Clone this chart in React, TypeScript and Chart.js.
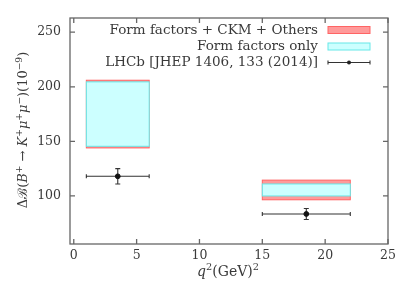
import React, { useEffect, useRef } from "react";
import { Chart, registerables } from "chart.js";

Chart.register(...registerables);

// ---- data ----
const binLow = [1, 15];
const binHigh = [6, 22];
const fullLow = [144, 96.5];
const fullHigh = [206, 114.5];
const ffLow = [145.5, 100];
const ffHigh = [204.5, 111];
const lhcbX = [3.5, 18.5];
const lhcbY = [118, 83.5];
const lhcbErr = [7, 5];
const xTicks = [0, 5, 10, 15, 20, 25];
const yTicks = [100, 150, 200, 250];
const legendLabels = [
  "Form factors + CKM + Others",
  "Form factors only",
  "LHCb [JHEP 1406, 133 (2014)]",
];

const RED_FILL = "#ff9a9a";
const RED_LINE = "#ff6464";
const CYAN_FILL = "#ccffff";
const CYAN_LINE = "#66e8e8";
const TEXT = "#3a3a3a";
const AXIS = "#666666";
const FONT = "'DejaVu Serif', 'Liberation Serif', serif";

type Run = { t: string; i?: boolean; sup?: boolean };

function runsWidth(ctx: CanvasRenderingContext2D, runs: Run[], size: number) {
  let w = 0;
  for (const r of runs) {
    const s = r.sup ? size * 0.7 : size;
    ctx.font = `${r.i ? "italic " : ""}${s}px ${FONT}`;
    w += ctx.measureText(r.t).width;
  }
  return w;
}

function drawRuns(ctx: CanvasRenderingContext2D, runs: Run[], size: number, x: number, y: number) {
  let cx = x;
  ctx.textBaseline = "alphabetic";
  ctx.textAlign = "left";
  for (const r of runs) {
    const s = r.sup ? size * 0.7 : size;
    ctx.font = `${r.i ? "italic " : ""}${s}px ${FONT}`;
    ctx.fillText(r.t, cx, r.sup ? y - size * 0.4 : y);
    cx += ctx.measureText(r.t).width;
  }
}

const yTitle: Run[] = [
  { t: "Δ" }, { t: "ℬ" }, { t: "(" }, { t: "B", i: true }, { t: "+", sup: true },
  { t: " → " }, { t: "K", i: true }, { t: "+", sup: true }, { t: "μ", i: true }, { t: "+", sup: true },
  { t: "μ", i: true }, { t: "−", sup: true }, { t: ")(10" }, { t: "−9", sup: true }, { t: ")" },
];
const xTitle: Run[] = [{ t: "q", i: true }, { t: "2", sup: true }, { t: "(GeV)" }, { t: "2", sup: true }];

const overlay = {
  id: "overlay",
  beforeDatasetsDraw(chart: any) {
    const ctx: CanvasRenderingContext2D = chart.ctx;
    const xs = chart.scales.x;
    const ys = chart.scales.y;
    ctx.save();
    for (let k = 0; k < binLow.length; k++) {
      const x0 = xs.getPixelForValue(binLow[k]);
      const x1 = xs.getPixelForValue(binHigh[k]);
      let yA = ys.getPixelForValue(fullHigh[k]);
      let yB = ys.getPixelForValue(fullLow[k]);
      ctx.fillStyle = RED_FILL;
      ctx.fillRect(x0, yA, x1 - x0, yB - yA);
      ctx.strokeStyle = RED_LINE;
      ctx.lineWidth = 1;
      ctx.strokeRect(x0, yA, x1 - x0, yB - yA);
      yA = ys.getPixelForValue(ffHigh[k]);
      yB = ys.getPixelForValue(ffLow[k]);
      ctx.fillStyle = CYAN_FILL;
      ctx.fillRect(x0, yA, x1 - x0, yB - yA);
      ctx.strokeStyle = CYAN_LINE;
      ctx.strokeRect(x0, yA, x1 - x0, yB - yA);
    }
    // error bars
    ctx.strokeStyle = "#333";
    ctx.lineWidth = 1.1;
    for (let k = 0; k < lhcbX.length; k++) {
      const x0 = xs.getPixelForValue(binLow[k]);
      const x1 = xs.getPixelForValue(binHigh[k]);
      const xc = xs.getPixelForValue(lhcbX[k]);
      const yc = ys.getPixelForValue(lhcbY[k]);
      const yt = ys.getPixelForValue(lhcbY[k] + lhcbErr[k]);
      const yb = ys.getPixelForValue(lhcbY[k] - lhcbErr[k]);
      ctx.beginPath();
      ctx.moveTo(x0, yc); ctx.lineTo(x1, yc);
      ctx.moveTo(x0, yc - 2); ctx.lineTo(x0, yc + 2);
      ctx.moveTo(x1, yc - 2); ctx.lineTo(x1, yc + 2);
      ctx.moveTo(xc, yt); ctx.lineTo(xc, yb);
      ctx.moveTo(xc - 2.5, yt); ctx.lineTo(xc + 2.5, yt);
      ctx.moveTo(xc - 2.5, yb); ctx.lineTo(xc + 2.5, yb);
      ctx.stroke();
    }
    ctx.restore();
  },
  afterDraw(chart: any) {
    const ctx: CanvasRenderingContext2D = chart.ctx;
    const a = chart.chartArea;
    const xs = chart.scales.x;
    const ys = chart.scales.y;
    ctx.save();
    // frame + inward ticks
    ctx.strokeStyle = AXIS;
    ctx.lineWidth = 1.3;
    ctx.strokeRect(a.left, a.top, a.right - a.left, a.bottom - a.top);
    ctx.beginPath();
    for (const v of xTicks) {
      const px = xs.getPixelForValue(v);
      ctx.moveTo(px, a.bottom); ctx.lineTo(px, a.bottom - 5);
      ctx.moveTo(px, a.top); ctx.lineTo(px, a.top + 5);
    }
    for (const v of yTicks) {
      const py = ys.getPixelForValue(v);
      ctx.moveTo(a.left, py); ctx.lineTo(a.left + 5, py);
      ctx.moveTo(a.right, py); ctx.lineTo(a.right - 5, py);
    }
    ctx.stroke();
    // legend
    const rows = [30, 46.5, 62.5];
    const sx0 = 328, sx1 = 370;
    ctx.fillStyle = TEXT;
    ctx.font = `13.5px ${FONT}`;
    ctx.textAlign = "right";
    ctx.textBaseline = "middle";
    legendLabels.forEach((l, i) => ctx.fillText(l, 318, rows[i]));
    ctx.lineWidth = 1;
    ctx.fillStyle = RED_FILL; ctx.fillRect(sx0, rows[0] - 3.5, sx1 - sx0, 7);
    ctx.strokeStyle = RED_LINE; ctx.strokeRect(sx0, rows[0] - 3.5, sx1 - sx0, 7);
    ctx.fillStyle = CYAN_FILL; ctx.fillRect(sx0, rows[1] - 3.5, sx1 - sx0, 7);
    ctx.strokeStyle = CYAN_LINE; ctx.strokeRect(sx0, rows[1] - 3.5, sx1 - sx0, 7);
    ctx.strokeStyle = "#333"; ctx.lineWidth = 1.1;
    ctx.beginPath();
    ctx.moveTo(sx0, rows[2]); ctx.lineTo(sx1, rows[2]);
    ctx.moveTo(sx0, rows[2] - 2); ctx.lineTo(sx0, rows[2] + 2);
    ctx.moveTo(sx1, rows[2] - 2); ctx.lineTo(sx1, rows[2] + 2);
    ctx.stroke();
    ctx.fillStyle = "#222";
    ctx.beginPath(); ctx.arc((sx0 + sx1) / 2, rows[2], 2, 0, Math.PI * 2); ctx.fill();
    // axis titles
    ctx.fillStyle = TEXT;
    const xw = runsWidth(ctx, xTitle, 14);
    drawRuns(ctx, xTitle, 14, 228 - xw / 2, 276);
    ctx.save();
    ctx.translate(27, 130);
    ctx.rotate(-Math.PI / 2);
    const yw = runsWidth(ctx, yTitle, 13);
    drawRuns(ctx, yTitle, 13, -yw / 2, 0);
    ctx.restore();
    ctx.restore();
  },
};

export default function App() {
  const ref = useRef<HTMLCanvasElement>(null);
  useEffect(() => {
    const chart = new Chart(ref.current!, {
      type: "scatter",
      data: {
        datasets: [
          {
            label: legendLabels[2],
            data: lhcbX.map((x, i) => ({ x, y: lhcbY[i] })),
            backgroundColor: "#111",
            borderColor: "#111",
            pointRadius: 2.4,
          },
        ],
      },
      options: {
        animation: false,
        responsive: false,
        layout: { padding: { top: 18, right: 19, left: 0, bottom: 0 } },
        plugins: { legend: { display: false }, tooltip: { enabled: false } },
        scales: {
          x: {
            type: "linear",
            min: -0.3,
            max: 25,
            afterBuildTicks: (s: any) => { s.ticks = xTicks.map((v) => ({ value: v })); },
            afterFit: (s: any) => { s.height = 41; },
            grid: { display: false, drawTicks: false },
            border: { display: false },
            ticks: { color: TEXT, font: { family: FONT, size: 12.5 }, padding: 4 },
          },
          y: {
            type: "linear",
            min: 56,
            max: 263,
            afterBuildTicks: (s: any) => { s.ticks = yTicks.map((v) => ({ value: v })); },
            afterFit: (s: any) => { s.width = 70; },
            grid: { display: false, drawTicks: false },
            border: { display: false },
            ticks: { color: TEXT, font: { family: FONT, size: 12.5 }, padding: 9 },
          },
        },
      },
      plugins: [overlay],
    });
    return () => chart.destroy();
  }, []);
  return (
    <div style={{ position: "fixed", left: 0, top: 0, width: 407, height: 285, background: "#fff" }}>
      <canvas ref={ref} width={407} height={285} style={{ width: 407, height: 285 }} />
    </div>
  );
}
